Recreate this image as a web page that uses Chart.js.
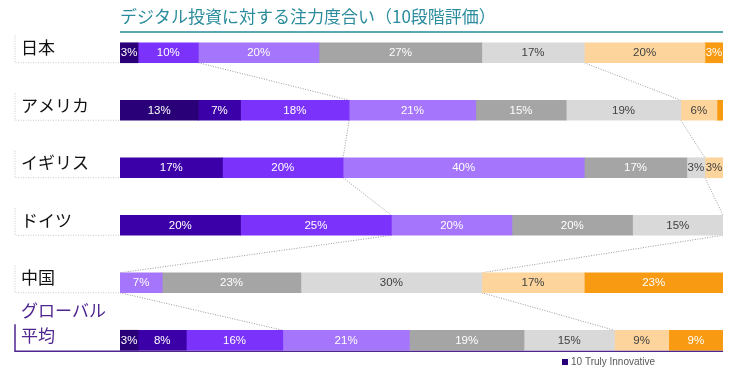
<!DOCTYPE html>
<html><head><meta charset="utf-8">
<script src="https://cdn.jsdelivr.net/npm/chart.js@4.4.1/dist/chart.umd.min.js"></script>
<style>html,body{margin:0;padding:0;background:#fff}#wrap{width:744px;height:374px}</style>
</head><body><div id="wrap"><canvas id="c"></canvas></div>
<script>
const categories = ['日本','アメリカ','イギリス','ドイツ','中国','グローバル平均'];
const seriesNames = ['10 Truly Innovative','9','8','7','6','5','4','3'];
const lvl10 = [3,13,0,0,0,3];
const lvl9  = [0,7,17,20,0,8];
const lvl8  = [10,18,20,25,0,16];
const lvl7  = [20,21,40,20,7,21];
const lvl6  = [27,15,17,20,23,19];
const lvl5  = [17,19,3,15,30,15];
const lvl4  = [20,6,3,0,17,9];
const lvl3  = [3,1,0,0,23,9];
const titleText = 'デジタル投資に対する注力度合い（10段階評価）';

const colors = ['#2a0078','#3c00a8','#7b33fb','#a576fb','#a5a5a5','#d9d9d9','#fdd59c','#f89a12'];
const labelColors = ['#fff','#fff','#fff','#fff','#fff','#404040','#404040','#fff'];
const seriesData = [lvl10,lvl9,lvl8,lvl7,lvl6,lvl5,lvl4,lvl3];
const NARROW = "'Liberation Sans Narrow','Arial Narrow','Liberation Sans',Arial,sans-serif";
const JP = "'Noto Sans CJK JP','Noto Sans',sans-serif";

const deco = {
  id:'deco',
  beforeDatasetsDraw(chart){
    const ctx = chart.ctx, ca = chart.chartArea;
    const xs = chart.scales.x, ys = chart.scales.y;
    ctx.save();
    // title
    ctx.font = '17px ' + JP; ctx.fillStyle = '#2a8c9c'; ctx.textBaseline='middle'; ctx.textAlign='left';
    ctx.fillText(titleText, ca.left, 17);
    ctx.strokeStyle = '#5aa8b4'; ctx.lineWidth = 2;
    ctx.beginPath(); ctx.moveTo(ca.left, 32); ctx.lineTo(ca.right, 32); ctx.stroke();
    // connectors
    const half = 10;
    const top3 = categories.map((_,i)=>lvl10[i]+lvl9[i]+lvl8[i]);
    const upper = categories.map((_,i)=>lvl10[i]+lvl9[i]+lvl8[i]+lvl7[i]+lvl6[i]+lvl5[i]);
    ctx.strokeStyle = '#9a9a9a'; ctx.lineWidth = 1; ctx.setLineDash([1,1.5]);
    for (let i=0;i<categories.length-1;i++){
      const y1 = ys.getPixelForValue(i)+half, y2 = ys.getPixelForValue(i+1)-half;
      [top3, upper].forEach(arr=>{
        ctx.beginPath();
        ctx.moveTo(xs.getPixelForValue(arr[i]), y1);
        ctx.lineTo(xs.getPixelForValue(arr[i+1]), y2);
        ctx.stroke();
      });
    }
    // left brackets
    ctx.strokeStyle = '#c8c8c8';
    for (let i=0;i<categories.length-1;i++){
      const yb = ys.getPixelForValue(i)+half;
      ctx.beginPath(); ctx.moveTo(15, yb-27); ctx.lineTo(15, yb); ctx.lineTo(ca.left, yb); ctx.stroke();
    }
    ctx.setLineDash([]);
    const last = categories.length-1;
    const yl = ys.getPixelForValue(last)+half+1;
    ctx.strokeStyle = '#4f2590'; ctx.lineWidth = 1.5;
    ctx.beginPath(); ctx.moveTo(15, yl-27); ctx.lineTo(15, yl); ctx.lineTo(ca.right, yl); ctx.stroke();
    // row labels
    ctx.textAlign='left'; ctx.textBaseline='middle'; ctx.font = '17px ' + JP;
    categories.forEach((c,i)=>{
      const yc = ys.getPixelForValue(i);
      if (i===last){
        ctx.fillStyle = '#4f2590';
        ctx.fillText('グローバル', 21, yc-30);
        ctx.fillText('平均', 21, yc-5);
      } else {
        ctx.fillStyle = '#111';
        ctx.fillText(c, 21, yc-5);
      }
    });
    // legend
    ctx.fillStyle = colors[0]; ctx.fillRect(562, 359, 6, 6);
    ctx.fillStyle = '#595959'; ctx.font = '10px ' + NARROW; ctx.textBaseline='middle';
    ctx.fillText(seriesNames[0], 571, 362.5);
    ctx.restore();
  },
  afterDatasetsDraw(chart){
    const ctx = chart.ctx;
    ctx.save();
    ctx.font = '11.5px ' + NARROW; ctx.textAlign='center'; ctx.textBaseline='middle';
    chart.data.datasets.forEach((ds,di)=>{
      const meta = chart.getDatasetMeta(di);
      meta.data.forEach((el,j)=>{
        const v = ds.data[j];
        if (!v || v < 2) return;
        const p = el.getProps(['x','base','y'], true);
        ctx.fillStyle = labelColors[di];
        ctx.fillText(v + '%', (p.x + p.base)/2, p.y + 0.5);
      });
    });
    ctx.restore();
  }
};

new Chart(document.getElementById('c'), {
  type:'bar',
  data:{
    labels: categories,
    datasets: seriesNames.map((n,i)=>({label:n, data:seriesData[i].map(v=>v===0?null:v), backgroundColor:colors[i], borderWidth:0, barThickness:20}))
  },
  options:{
    indexAxis:'y', responsive:true, maintainAspectRatio:false, animation:false,
    layout:{padding:{left:120, right:21, top:24, bottom:5}},
    scales:{
      x:{stacked:true, min:0, max:100, display:false},
      y:{stacked:true, display:false}
    },
    plugins:{legend:{display:false}, tooltip:{enabled:false}}
  },
  plugins:[deco]
});
</script></body></html>
